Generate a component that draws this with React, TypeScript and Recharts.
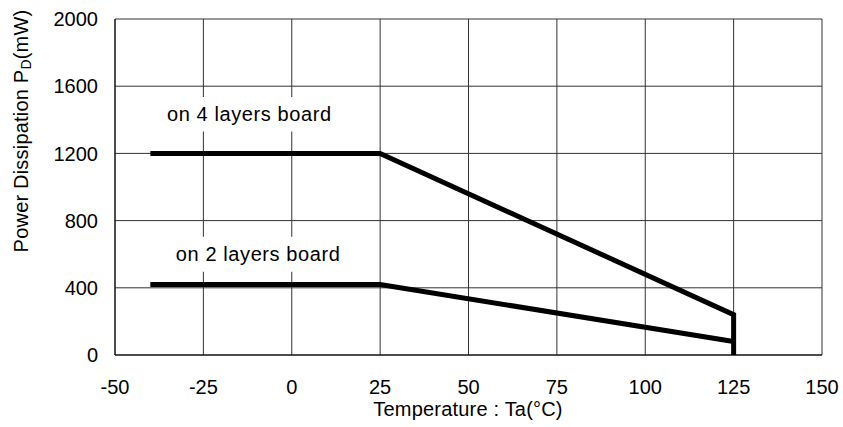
import { LineChart, Line, XAxis, YAxis, CartesianGrid, ReferenceArea } from 'recharts'

const xTicks = [-50, -25, 0, 25, 50, 75, 100, 125, 150]
const yTicks = [0, 400, 800, 1200, 1600, 2000]

// (Ta, Pd) points
const board4 = [
  { t: -40, pd: 1200 },
  { t: 25, pd: 1200 },
  { t: 125, pd: 240 },
  { t: 125, pd: 0 },
]
const board2 = [
  { t: -40, pd: 420 },
  { t: 25, pd: 420 },
  { t: 125, pd: 80 },
]

const font = 'Liberation Sans, Arial, sans-serif'

const YTitle = () => (
  <text
    x={21}
    y={131}
    transform="rotate(-90, 21, 131)"
    textAnchor="middle"
    dominantBaseline="central"
    fontSize={20}
    fontFamily={font}
    fill="#000"
    letterSpacing={0.2}
  >
    Power Dissipation P
    <tspan fontSize={14} dy={5}>D</tspan>
    <tspan dy={-5}>(mW)</tspan>
  </text>
)

const XTitle = () => (
  <text x={468} y={409} textAnchor="middle" dominantBaseline="central" fontSize={20} fontFamily={font} fill="#000" letterSpacing={0.2}>
    Temperature : Ta(°C)
  </text>
)

const boxLabel = (text: string) => (props: any) => {
  const { viewBox } = props
  const cx = viewBox.x + viewBox.width / 2
  const cy = viewBox.y + viewBox.height / 2
  return (
    <text x={cx} y={cy} textAnchor="middle" dominantBaseline="central" fontSize={20} letterSpacing={0.6} fontFamily={font} fill="#000">
      {text}
    </text>
  )
}

export default function App() {
  return (
    <div style={{ position: 'absolute', left: 0, top: 0, background: '#fff' }}>
      <LineChart width={843} height={427} margin={{ top: 19, right: 21, bottom: 0, left: 0 }}>
        <CartesianGrid stroke="#333" strokeWidth={1} />
        <XAxis
          type="number"
          dataKey="t"
          domain={[-50, 150]}
          ticks={xTicks}
          allowDataOverflow
          height={72}
          tickLine={false}
          tickMargin={19}
          axisLine={{ stroke: '#000' }}
          tick={{ fill: '#000', fontSize: 20, fontFamily: font }}
          label={<XTitle />}
        />
        <YAxis
          type="number"
          domain={[0, 2000]}
          ticks={yTicks}
          width={115}
          tickLine={false}
          tickMargin={11}
          axisLine={{ stroke: '#000' }}
          tick={{ fill: '#000', fontSize: 20, fontFamily: font }}
          label={<YTitle />}
        />
        <ReferenceArea x1={-36} x2={12} y1={1330} y2={1535} fill="#fff" fillOpacity={1} stroke="none" label={boxLabel('on 4 layers board')} />
        <ReferenceArea x1={-33.5} x2={14.5} y1={496} y2={704} fill="#fff" fillOpacity={1} stroke="none" label={boxLabel('on 2 layers board')} />
        <Line data={board4} dataKey="pd" stroke="#000" strokeWidth={5} dot={false} isAnimationActive={false} type="linear" />
        <Line data={board2} dataKey="pd" stroke="#000" strokeWidth={5} dot={false} isAnimationActive={false} type="linear" />
      </LineChart>
    </div>
  )
}
